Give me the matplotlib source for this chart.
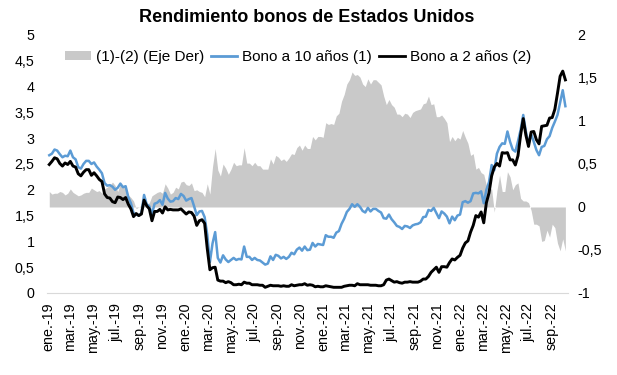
import matplotlib
matplotlib.use("Agg")
import matplotlib.pyplot as plt
import pandas as pd
from matplotlib.patches import Patch
from matplotlib.lines import Line2D

plt.rcParams['font.family'] = ['Liberation Sans', 'DejaVu Sans']

title = "Rendimiento bonos de Estados Unidos"
label_spread = "(1)-(2) (Eje Der)"
label_10y = "Bono a 10 años (1)"
label_2y = "Bono a 2 años (2)"

start_date = "2019-01-04"   # weekly observations (Fridays)

# 10-year yield, weekly
bono_10y_2019 = [2.67, 2.70, 2.78, 2.76,
                 2.69, 2.63, 2.66, 2.65,
                 2.76, 2.63, 2.59, 2.44, 2.41,
                 2.50, 2.56, 2.56, 2.50,
                 2.53, 2.45, 2.39, 2.32, 2.13,
                 2.08, 2.09, 2.06, 2.00,
                 2.04, 2.12, 2.05, 2.07,
                 1.86, 1.74, 1.55, 1.52, 1.50,
                 1.55, 1.90, 1.72, 1.68,
                 1.53, 1.73, 1.75, 1.80,
                 1.71, 1.94, 1.83, 1.77, 1.78,
                 1.84, 1.82, 1.92, 1.88]
bono_10y_2020 = [1.79, 1.82, 1.84, 1.68, 1.51,
                 1.58, 1.59, 1.47, 1.13,
                 0.60, 0.96, 1.18, 0.68,
                 0.59, 0.73, 0.65, 0.60,
                 0.64, 0.68, 0.64, 0.66, 0.65,
                 0.90, 0.70, 0.70, 0.64,
                 0.68, 0.64, 0.63, 0.59, 0.55,
                 0.57, 0.71, 0.64, 0.74,
                 0.72, 0.67, 0.70, 0.66,
                 0.70, 0.78, 0.75, 0.84, 0.88,
                 0.82, 0.90, 0.83, 0.84,
                 0.97, 0.90, 0.95, 0.94]
bono_10y_2021 = [0.93, 1.12, 1.09, 1.09, 1.07,
                 1.17, 1.20, 1.34, 1.44,
                 1.57, 1.63, 1.72, 1.67,
                 1.72, 1.67, 1.59, 1.56, 1.65,
                 1.58, 1.63, 1.63, 1.59,
                 1.56, 1.45, 1.44, 1.52,
                 1.43, 1.37, 1.30, 1.28, 1.24,
                 1.30, 1.29, 1.26, 1.31,
                 1.33, 1.34, 1.37, 1.47,
                 1.48, 1.61, 1.59, 1.65, 1.55,
                 1.45, 1.58, 1.54, 1.48,
                 1.35, 1.48, 1.41, 1.50, 1.52]
bono_10y_2022 = [1.76, 1.78, 1.75, 1.78,
                 1.93, 1.94, 1.93, 1.97,
                 1.74, 2.00, 2.15, 2.48,
                 2.38, 2.70, 2.83, 2.90, 2.89,
                 3.13, 2.93, 2.78, 2.74,
                 2.94, 3.16, 3.45, 3.13,
                 2.89, 3.08, 2.93, 2.77, 2.67,
                 2.83, 2.85, 2.98, 3.04,
                 3.20, 3.32, 3.45, 3.69, 3.93,
                 3.62]

# 2-year yield, weekly
bono_2y_2019 = [2.49, 2.55, 2.62, 2.60,
                2.51, 2.46, 2.52, 2.49,
                2.55, 2.46, 2.44, 2.31, 2.27,
                2.34, 2.39, 2.39, 2.28,
                2.33, 2.27, 2.20, 2.16, 1.92,
                1.85, 1.84, 1.77, 1.75,
                1.86, 1.85, 1.81, 1.85,
                1.72, 1.63, 1.48, 1.54, 1.50,
                1.53, 1.80, 1.69, 1.63,
                1.40, 1.58, 1.58, 1.62,
                1.55, 1.67, 1.61, 1.62, 1.61,
                1.61, 1.61, 1.63, 1.58]
bono_2y_2020 = [1.53, 1.57, 1.56, 1.49, 1.31,
                1.40, 1.42, 1.35, 0.86,
                0.45, 0.49, 0.50, 0.25,
                0.23, 0.23, 0.20, 0.22,
                0.20, 0.16, 0.16, 0.17, 0.16,
                0.21, 0.19, 0.19, 0.16,
                0.16, 0.16, 0.15, 0.15, 0.11,
                0.13, 0.15, 0.14, 0.14,
                0.14, 0.13, 0.14, 0.13,
                0.13, 0.16, 0.14, 0.15, 0.16,
                0.16, 0.18, 0.15, 0.16,
                0.15, 0.12, 0.13, 0.12]
bono_2y_2021 = [0.12, 0.14, 0.13, 0.12, 0.11,
                0.11, 0.11, 0.11, 0.13,
                0.14, 0.15, 0.15, 0.14,
                0.18, 0.16, 0.16, 0.16, 0.16,
                0.15, 0.15, 0.15, 0.14,
                0.14, 0.16, 0.25, 0.27,
                0.24, 0.21, 0.22, 0.20, 0.19,
                0.21, 0.21, 0.22, 0.21,
                0.21, 0.21, 0.23, 0.27,
                0.27, 0.32, 0.40, 0.45, 0.50,
                0.40, 0.51, 0.51, 0.50,
                0.59, 0.66, 0.64, 0.69, 0.73]
bono_2y_2022 = [0.87, 0.97, 1.01, 1.18,
                1.31, 1.50, 1.47, 1.57,
                1.36, 1.75, 1.94, 2.27,
                2.44, 2.51, 2.46, 2.72, 2.71,
                2.72, 2.58, 2.58, 2.48,
                2.66, 3.06, 3.38, 3.06,
                2.84, 3.12, 3.13, 2.97, 2.89,
                3.23, 3.24, 3.25, 3.39,
                3.40, 3.56, 3.87, 4.20, 4.30,
                4.13]

x_tick_dates = ["2019-01-01", "2019-03-01", "2019-05-01", "2019-07-01", "2019-09-01", "2019-11-01",
                "2020-01-01", "2020-03-01", "2020-05-01", "2020-07-01", "2020-09-01", "2020-11-01",
                "2021-01-01", "2021-03-01", "2021-05-01", "2021-07-01", "2021-09-01", "2021-11-01",
                "2022-01-01", "2022-03-01", "2022-05-01", "2022-07-01", "2022-09-01"]
x_tick_labels = ["ene.-19", "mar.-19", "may.-19", "jul.-19", "sep.-19", "nov.-19",
                 "ene.-20", "mar.-20", "may.-20", "jul.-20", "sep.-20", "nov.-20",
                 "ene.-21", "mar.-21", "may.-21", "jul.-21", "sep.-21", "nov.-21",
                 "ene.-22", "mar.-22", "may.-22", "jul.-22", "sep.-22"]
left_ticks = [0, 0.5, 1, 1.5, 2, 2.5, 3, 3.5, 4, 4.5, 5]
left_labels = ["0", "0,5", "1", "1,5", "2", "2,5", "3", "3,5", "4", "4,5", "5"]
right_ticks = [-1, -0.5, 0, 0.5, 1, 1.5, 2]
right_labels = ["-1", "-0,5", "0", "0,5", "1", "1,5", "2"]

bono_10y = bono_10y_2019 + bono_10y_2020 + bono_10y_2021 + bono_10y_2022
bono_2y = bono_2y_2019 + bono_2y_2020 + bono_2y_2021 + bono_2y_2022
n = min(len(bono_10y), len(bono_2y))
bono_10y = bono_10y[:n]
bono_2y = bono_2y[:n]
dates = pd.date_range(start_date, periods=n, freq="W-FRI")
spread = [a - b for a, b in zip(bono_10y, bono_2y)]

c_gray = "#c9c9c9"
c_blue = "#5b9bd5"
c_black = "#000000"

fig = plt.figure(figsize=(6.17, 3.75), dpi=100)
ax = fig.add_axes([0.0762, 0.2187, 0.8444, 0.688])
ax2 = ax.twinx()
ax.set_zorder(ax2.get_zorder() + 1)
ax.patch.set_visible(False)

ax2.fill_between(dates, 0, spread, color=c_gray, linewidth=0)
ax.plot(dates, bono_10y, color=c_blue, linewidth=1.8)
ax.plot(dates, bono_2y, color=c_black, linewidth=2.1)

ax.set_ylim(0, 5)
ax2.set_ylim(-1, 2)
ax.set_xlim(pd.Timestamp("2018-12-29"), pd.Timestamp("2022-10-14"))

ax.set_yticks(left_ticks)
ax.set_yticklabels(left_labels)
ax2.set_yticks(right_ticks)
ax2.set_yticklabels(right_labels)
ax.set_xticks(pd.to_datetime(x_tick_dates))
ax.set_xticklabels(x_tick_labels, rotation=90)

for a in (ax, ax2):
    for s in a.spines.values():
        s.set_visible(False)
ax.spines['bottom'].set_visible(True)
ax.spines['bottom'].set_color("#d9d9d9")
ax.spines['bottom'].set_linewidth(0.8)

ax.tick_params(axis='both', length=0, labelsize=10.3, colors='#000000')
ax.tick_params(axis='y', pad=9)
ax.tick_params(axis='x', pad=7)
ax2.tick_params(axis='y', length=0, labelsize=10.3, pad=7)
for lbl in ax2.get_yticklabels():
    lbl.set_horizontalalignment('left')

fig.text(0.497, 1 - 17 / 375, title, ha='center', va='center', fontsize=13, fontweight='bold')

handles = [Patch(facecolor=c_gray, edgecolor='none'),
           Line2D([], [], color=c_blue, linewidth=2),
           Line2D([], [], color=c_black, linewidth=2)]
ax.legend(handles, [label_spread, label_10y, label_2y], loc='center',
          bbox_to_anchor=(0.482, 0.915), ncol=3, frameon=False, fontsize=11,
          handlelength=1.7, handletextpad=0.3, columnspacing=0.5, handleheight=0.5,
          borderaxespad=0, borderpad=0)

fig.savefig("out.png", dpi=100)
